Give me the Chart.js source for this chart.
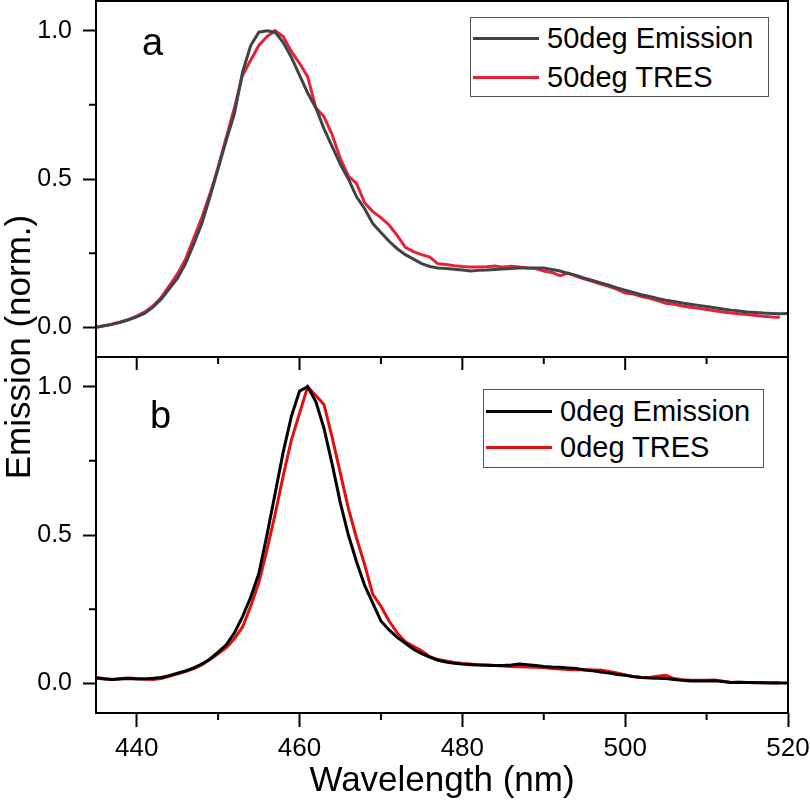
<!DOCTYPE html>
<html>
<head>
<meta charset="utf-8">
<script src="https://cdn.jsdelivr.net/npm/chart.js@4.4.1/dist/chart.umd.min.js"></script>
<style>
  body { margin: 0; background: #fff; font-family: "Liberation Sans", Arial, sans-serif; }
  #wrap { position: relative; width: 810px; height: 806px; overflow: hidden; }
  .pane { position: absolute; left: 0; width: 810px; }
  .leg { position: absolute; border: 1.5px solid #555; background: #fff; box-sizing: border-box; }
  .leg div { position: absolute; left: 2px; height: 38px; display: flex; align-items: center;
             font-size: 29px; white-space: nowrap; color: #000; }
  .leg i { display: inline-block; width: 66px; height: 3px; margin-right: 8px; }
  .tag { position: absolute; font-size: 38px; line-height: 38px; color: #000; }
  #ytitle { position: absolute; left: -182px; top: 327px; width: 400px; height: 40px; line-height: 40px;
            text-align: center; font-size: 35px; white-space: nowrap; transform: rotate(-90deg); }
</style>
</head>
<body>
<div id="wrap">
  <div class="pane" style="top:0;height:360px"><canvas id="c-top"></canvas></div>
  <div class="pane" style="top:340px;height:466px"><canvas id="c-bot"></canvas></div>

  <div class="tag" style="left:142px;top:23px">a</div>
  <div class="tag" style="left:150px;top:396px">b</div>

  <div class="leg" style="left:470px;top:17px;width:299px;height:80px">
    <div style="top:1px"><i style="background:#3f4545"></i>50deg Emission</div>
    <div style="top:40px"><i style="background:#e8213b"></i>50deg TRES</div>
  </div>
  <div class="leg" style="left:483px;top:389px;width:281px;height:79px">
    <div style="top:2px"><i style="background:#000"></i>0deg Emission</div>
    <div style="top:38px"><i style="background:#e30e0e"></i>0deg TRES</div>
  </div>

  <div id="ytitle">Emission (norm.)</div>
</div>

<script>
// 波長 (nm)，兩個面板共用
const WL = [435,436,437,438,439,440,441,442,443,444,445,446,447,448,449,450,451,452,453,454,
            455,456,457,458,459,460,461,462,463,464,465,466,467,468,469,470,471,472,473,474,
            475,476,477,478,479,480,481,482,483,484,485,486,487,488,489,490,491,492,493,494,
            495,496,497,498,499,500,501,502,503,504,505,506,507,508,509,510,511,512,513,514,
            515,516,517,518,519,520];

// (a) 50deg
const EM50 = [0.000,0.005,0.010,0.017,0.025,0.035,0.048,0.068,0.095,0.130,
              0.165,0.215,0.280,0.350,0.440,0.535,0.630,0.720,0.860,0.950,
              0.995,1.000,0.995,0.960,0.910,0.850,0.790,0.740,0.670,0.610,
              0.550,0.500,0.440,0.400,0.350,0.320,0.290,0.265,0.245,0.230,
              0.215,0.205,0.200,0.198,0.196,0.193,0.190,0.192,0.193,0.195,
              0.197,0.198,0.200,0.200,0.200,0.200,0.195,0.190,0.182,0.175,
              0.166,0.158,0.150,0.142,0.133,0.125,0.118,0.110,0.104,0.097,
              0.091,0.087,0.082,0.078,0.074,0.070,0.066,0.062,0.058,0.055,
              0.052,0.050,0.048,0.047,0.046,0.047];
const TRES50 = [0.000,0.005,0.011,0.018,0.027,0.038,0.052,0.072,0.100,0.140,
                0.180,0.230,0.300,0.370,0.450,0.540,0.640,0.740,0.850,0.900,
                0.950,0.980,1.000,0.980,0.930,0.890,0.845,0.740,0.710,0.650,
                0.570,0.510,0.485,0.420,0.390,0.370,0.345,0.310,0.270,0.255,
                0.245,0.237,0.214,0.212,0.208,0.205,0.203,0.203,0.204,0.207,
                0.203,0.206,0.203,0.200,0.198,0.190,0.185,0.174,0.183,0.172,
                0.163,0.155,0.146,0.138,0.128,0.116,0.112,0.104,0.098,0.090,
                0.081,0.078,0.072,0.068,0.064,0.060,0.056,0.052,0.048,0.046,
                0.043,0.040,0.037,0.035,0.034,null];

// (b) 0deg
const EM0 = [0.018,0.015,0.013,0.015,0.016,0.015,0.015,0.017,0.020,0.026,
             0.034,0.042,0.052,0.065,0.082,0.105,0.130,0.170,0.225,0.290,
             0.370,0.500,0.640,0.780,0.900,0.985,1.000,0.950,0.860,0.740,
             0.610,0.500,0.410,0.330,0.270,0.210,0.180,0.155,0.135,0.115,
             0.100,0.088,0.078,0.072,0.068,0.065,0.063,0.062,0.061,0.060,
             0.060,0.062,0.065,0.063,0.060,0.057,0.055,0.054,0.052,0.050,
             0.045,0.042,0.038,0.035,0.030,0.027,0.023,0.020,0.018,0.017,
             0.016,0.013,0.010,0.008,0.008,0.008,0.009,0.006,0.003,0.004,
             0.003,0.002,0.002,0.001,0.001,0.001];
const TRES0 = [0.020,0.016,0.013,0.016,0.018,0.016,0.015,0.013,0.016,0.024,
               0.032,0.040,0.050,0.062,0.080,0.100,0.120,0.150,0.190,0.260,
               0.340,0.450,0.570,0.700,0.820,0.910,1.000,0.970,0.940,0.830,
               0.710,0.590,0.490,0.400,0.300,0.260,0.210,0.170,0.140,0.125,
               0.110,0.090,0.080,0.075,0.070,0.067,0.065,0.063,0.062,0.060,
               0.058,0.057,0.056,0.055,0.054,0.053,0.050,0.048,0.047,0.046,
               0.047,0.045,0.045,0.040,0.035,0.028,0.022,0.020,0.020,0.024,
               0.027,0.016,0.012,0.010,0.010,0.010,0.011,0.007,0.003,0.004,
               0.003,0.003,0.002,0.002,0.002,null];

const Y_MAJOR = [0, 0.5, 1];
const Y_MINOR = [0.25, 0.75];
const X_MAJOR = [440, 460, 480, 500, 520];
const X_MINOR = [450, 470, 490, 510];

const FONT = '"Liberation Sans", Arial, sans-serif';
Chart.defaults.font.family = FONT;
Chart.defaults.color = '#000';

const pts = ys => WL.map((x, i) => ({ x, y: ys[i] }));
const line = (data, color) => ({ data: pts(data), borderColor: color, borderWidth: 3,
                                 pointRadius: 0, tension: 0, fill: false });

// 外框 + 次刻度 (+ 下圖上緣朝內的刻度)
const frame = {
  id: 'frame',
  afterDatasetsDraw(c, args, o) {
    const { ctx, chartArea: a } = c, sx = c.scales.x, sy = c.scales.y;
    ctx.save();
    ctx.strokeStyle = '#000';
    ctx.lineWidth = 2;
    ctx.strokeRect(a.left, a.top, a.right - a.left, a.bottom - a.top);
    ctx.beginPath();
    Y_MINOR.forEach(v => { const p = sy.getPixelForValue(v); ctx.moveTo(a.left - 7, p); ctx.lineTo(a.left, p); });
    if (o.bottomAxis) {
      X_MINOR.forEach(v => { const p = sx.getPixelForValue(v); ctx.moveTo(p, a.bottom); ctx.lineTo(p, a.bottom + 7); });
      X_MAJOR.forEach(v => { const p = sx.getPixelForValue(v); ctx.moveTo(p, a.top); ctx.lineTo(p, a.top + 13); });
      X_MINOR.forEach(v => { const p = sx.getPixelForValue(v); ctx.moveTo(p, a.top); ctx.lineTo(p, a.top + 7); });
    }
    ctx.stroke();
    ctx.restore();
  },
};

function yScale() {
  return {
    min: -0.1, max: 1.1,
    afterBuildTicks: s => { s.ticks = Y_MAJOR.map(value => ({ value })); },
    afterFit: s => { s.width = 96; s.paddingTop = 0; s.paddingBottom = 0; },
    ticks: { padding: 11, font: { size: 25 }, color: '#000', callback: v => v.toFixed(1) },
    grid: { drawOnChartArea: false, tickLength: 13, tickWidth: 2, tickColor: '#000' },
    border: { display: false },
  };
}

function panel(id, datasets, bottomAxis, pad) {
  const x = { type: 'linear', min: 435, max: 520, display: bottomAxis };
  if (bottomAxis) Object.assign(x, {
    afterBuildTicks: s => { s.ticks = X_MAJOR.map(value => ({ value })); },
    afterFit: s => { s.height = 93; s.paddingLeft = 0; s.paddingRight = 0; },
    ticks: { padding: 6, font: { size: 26 }, color: '#000', maxRotation: 0 },
    grid: { drawOnChartArea: false, tickLength: 14, tickWidth: 2, tickColor: '#000' },
    border: { display: false },
    title: { display: true, text: 'Wavelength (nm)', font: { size: 35 }, color: '#000',
             padding: { top: 0, bottom: 4 } },
  });
  return new Chart(document.getElementById(id), {
    type: 'line',
    data: { datasets },
    options: {
      responsive: true, maintainAspectRatio: false, animation: false,
      layout: { padding: pad },
      plugins: { legend: { display: false }, tooltip: { enabled: false }, frame: { bottomAxis } },
      scales: { x, y: yScale() },
    },
    plugins: [frame],
  });
}

panel('c-top', [line(EM50, '#3f4545'), line(TRES50, '#e8213b')], false,
      { left: 0, top: 1, right: 22, bottom: 3 });
panel('c-bot', [line(EM0, '#000'), line(TRES0, '#e30e0e')], true,
      { left: 0, top: 17, right: 22, bottom: 0 });
</script>
</body>
</html>
